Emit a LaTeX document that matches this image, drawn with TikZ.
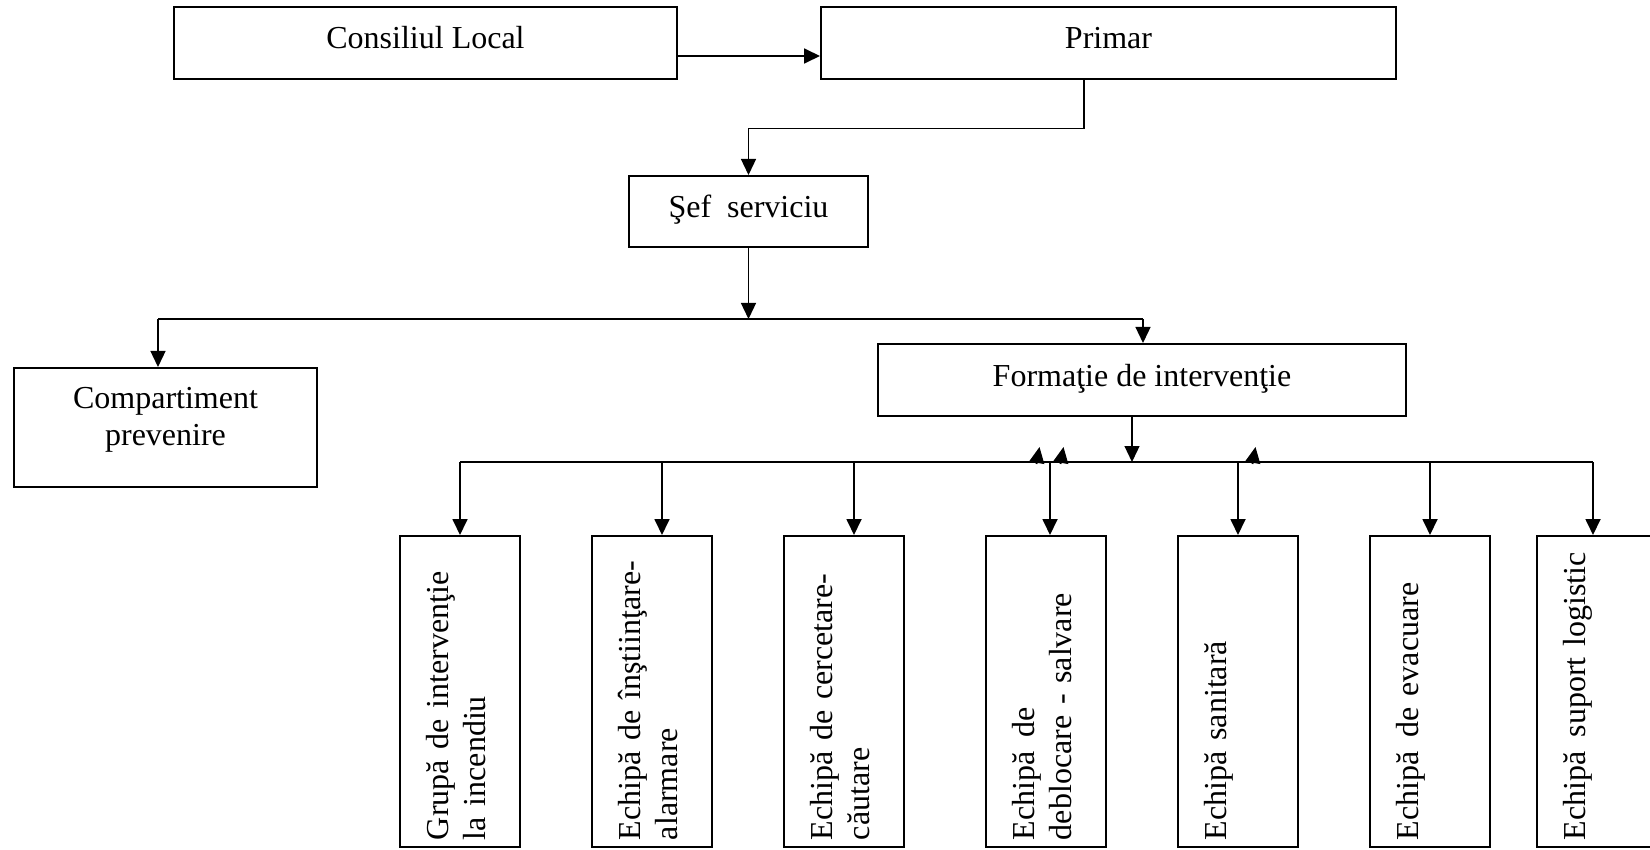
\documentclass[tikz,border=0pt]{standalone}
\usepackage{fontspec}
\setmainfont{Liberation Serif}
\usetikzlibrary{arrows.meta}

\begin{document}
\begin{tikzpicture}[x=1pt, y=-1pt,
	box/.style={draw, line width=2pt, inner sep=0pt, align=center, font=\fontsize{32}{37}\selectfont, text height=22pt, text depth=10pt},
	echipa/.style={draw, line width=2pt, rotate=90, minimum width=311pt, minimum height=120pt, inner xsep=7pt, inner ysep=0pt, text width=297pt, align=left, font=\fontsize{32}{37}\selectfont, text height=22pt, text depth=46pt},
	arr/.style={line width=1.8pt, -{Triangle[length=16pt, width=15pt]}},
	bus/.style={line width=2.8pt}]
	
	\useasboundingbox (0,0) rectangle (1650,850);
	
	\node [box, minimum width=503pt, minimum height=72pt] (cl) at (425.5,43) {Consiliul Local};
	
	\node [box, minimum width=575pt, minimum height=72pt] (pr) at (1108.5,43) {Primar};
	
	\node [box, minimum width=239pt, minimum height=71pt] (sef) at (748.5,211.5) {Şef\ \ serviciu};
	
	\node [box, minimum width=303pt, minimum height=119pt, text height=59pt, text depth=24pt] (comp) at (165.5,427.5) {Compartiment\\prevenire};
	
	\node [box, minimum width=528pt, minimum height=72pt] (form) at (1142,380) {Formaţie de intervenţie};
	
	\node [echipa] (g1) at (460,691.5) {Grupă de intervenţie\\la incendiu};
	
	\node [echipa] (g2) at (652,691.5) {Echipă de înştiinţare-\\alarmare};
	
	\node [echipa] (g3) at (844,691.5) {Echipă de cercetare-\\căutare};
	
	\node [echipa] (g4) at (1046,691.5) {Echipă\hspace{14pt}de\\deblocare - salvare};
	
	\node [echipa] (g5) at (1238,691.5) {Echipă sanitară};
	
	\node [echipa] (g6) at (1430,691.5) {Echipă\hspace{14pt}de evacuare};
	
	\node [echipa] (g7) at (1597,691.5) {\mbox{Echipă\hspace{14pt}suport logistic}};
	
	\draw [arr] ([yshift=-13pt]cl.east) -- ([yshift=-13pt]cl.east -| pr.west);
	
	\coordinate (j1) at (1084,128.5);
	
	\draw [arr, line width=1.3pt] (j1 |- pr.south) -- (j1) -- (j1 -| sef.north) -- (sef.north);
	
	\coordinate (b1) at (748.5,319);
	\coordinate (bl) at (158,319);
	\coordinate (br) at (1143,319);
	
	\draw [arr, line width=1.3pt] (sef.south) -- (b1);
	
	\draw [bus] (bl) -- (br);
	
	\draw [arr, line width=1.3pt] (bl) -- (bl |- comp.north);
	
	\draw [arr, line width=1.3pt] (br) -- (br |- form.north);
	
	\coordinate (b2) at (1132,462);
	
	\draw [arr, line width=1.3pt] (b2 |- form.south) -- (b2);
	
	\foreach \i/\x in {1/460,2/662,3/854,4/1050,5/1238,6/1430,7/1593}
		\coordinate (d\i) at (\x,462);
	
	\draw [bus] (d1) -- (d7);
	
	\foreach \i in {1,...,7}
		\draw [arr] (d\i) -- (d\i |- g\i.east);
	
	\foreach \x in {1038,1062,1254}
		\draw [arr] (\x-1.5,464) -- (\x+1.5,447);
	
\end{tikzpicture}
\end{document}
